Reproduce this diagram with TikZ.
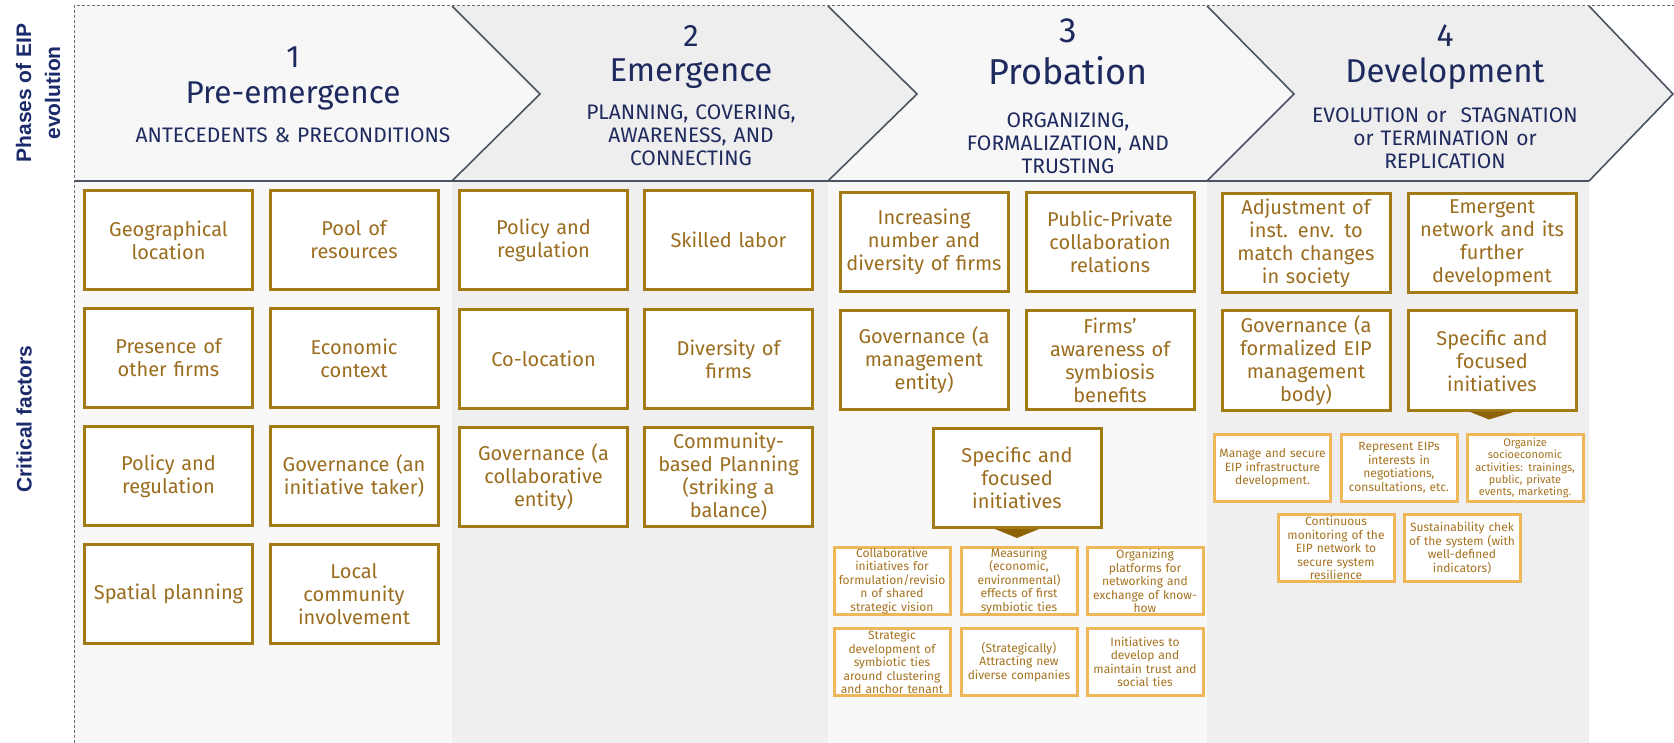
\documentclass[tikz,border=0pt]{standalone}
\usepackage{fontspec}
\setmainfont{Fira Sans}
\newfontfamily\labelfont{Liberation Sans}
\definecolor{navy}{HTML}{1E2A5E}
\definecolor{labelnavy}{HTML}{1B2A6B}
\definecolor{boxgold}{HTML}{A27A16}
\definecolor{goldtext}{HTML}{9B6D1F}
\definecolor{lightgold}{HTML}{EDB75A}
\definecolor{smalltext}{HTML}{A6721F}
\definecolor{arrowgold}{HTML}{8E6308}
\definecolor{outline}{HTML}{4A5361}
\definecolor{framegray}{HTML}{707070}
\definecolor{paleA}{HTML}{F8F8F8}
\definecolor{paleB}{HTML}{EFEFEF}
\definecolor{chevA}{HTML}{F7F7F8}
\definecolor{chevB}{HTML}{EEEEEE}
\begin{document}
\begin{tikzpicture}[x=1pt,y=-1pt,
  framedash/.style={draw=framegray, line width=1pt, dash pattern=on 3pt off 2pt},
  chevline/.style={draw=outline, line width=1.6pt},
  numtxt/.style={text=navy, inner sep=0pt, anchor=base},
  titletxt/.style={text=navy, inner sep=0pt, anchor=base},
  subtxt/.style={text=navy, inner sep=0pt, anchor=base, align=center, text width=340pt,
    font=\fontsize{21}{22.7}\selectfont},
  sidelabel/.style={text=labelnavy, inner sep=0pt, rotate=90, align=center,
    font=\labelfont\bfseries\fontsize{21}{29}\selectfont},
  bigbox/.style={draw=boxgold, line width=3pt, fill=white, minimum width=168pt,
    minimum height=99pt, inner sep=0pt, text width=166pt, align=center,
    text=goldtext, font=\fontsize{20}{23}\selectfont},
  smallbox/.style={draw=lightgold, line width=3pt, fill=white, minimum width=113pt,
    minimum height=67pt, inner sep=0pt, text width=116pt, align=center,
    text=smalltext, font=\fontsize{12}{13.5}\selectfont},
  pointer/.style={fill=arrowgold}
]
\useasboundingbox (0,0) rectangle (1674,743);
\fill[white] (0,0) rectangle (1674,743);

% column backgrounds
\fill[paleA] (74,181) rectangle (452,743);
\fill[paleB] (452,181) rectangle (828,743);
\fill[paleA] (828,181) rectangle (1207,743);
\fill[paleB] (1207,181) rectangle (1589,743);

% phase chevrons
\fill[chevA] (74,6) -- (452,6) -- (540,94) -- (452,181) -- (74,181) -- cycle;
\fill[chevB] (452,6) -- (828,6) -- (917,94) -- (828,181) -- (452,181) -- (540,94) -- cycle;
\fill[chevA] (828,6) -- (1207,6) -- (1294,94) -- (1207,181) -- (828,181) -- (917,94) -- cycle;
\fill[chevB] (1207,6) -- (1589,6) -- (1673,94) -- (1589,181) -- (1207,181) -- (1294,94) -- cycle;
\draw[chevline] (452,6) -- (540,94) -- (452,181);
\draw[chevline] (828,6) -- (917,94) -- (828,181);
\draw[chevline] (1207,6) -- (1294,94) -- (1207,181);
\draw[chevline] (1589,6) -- (1673,94) -- (1589,181);
\draw[chevline] (74,181) -- (1589,181);

% dashed frame
\draw[framedash] (74,743) -- (74,6) -- (1674,6);

% side labels
\node[sidelabel] (phases) at (38,93) {Phases of EIP\\evolution};
\node[sidelabel] (critical) at (24,419) {Critical factors};

% phase headings
\node[numtxt, font=\fontsize{31}{33}\selectfont] (n1) at (293,68) {1};
\node[titletxt, font=\fontsize{31.5}{33}\selectfont] (t1) at (293,104) {Pre-emergence};
\node[subtxt] (s1) at (293,143) {ANTECEDENTS \& PRECONDITIONS};

\node[numtxt, font=\fontsize{31}{33}\selectfont] (n2) at (691,47) {2};
\node[titletxt, font=\fontsize{33}{35}\selectfont] (t2) at (691,82) {Emergence};
\node[subtxt] (s2) at (691,120) {PLANNING, COVERING,\\AWARENESS, AND\\CONNECTING};

\node[numtxt, font=\fontsize{35}{37}\selectfont] (n3) at (1068,43) {3};
\node[titletxt, font=\fontsize{36}{38}\selectfont] (t3) at (1068,85) {Probation};
\node[subtxt] (s3) at (1068,128) {ORGANIZING,\\FORMALIZATION, AND\\TRUSTING};

\node[numtxt, font=\fontsize{32}{34}\selectfont] (n4) at (1445,47) {4};
\node[titletxt, font=\fontsize{33}{35}\selectfont] (t4) at (1445,83) {Development};
\node[subtxt] (s4) at (1445,123) {EVOLUTION or\ \ STAGNATION\\or TERMINATION or\\REPLICATION};

% phase 1 factors
\node[bigbox] (a1) at (168.5,240) {Geographical\\location};
\node[bigbox] (a2) at (354,240) {Pool of\\resources};
\node[bigbox] (a3) at (168.5,358) {Presence of\\other firms};
\node[bigbox] (a4) at (354,358) {Economic\\context};
\node[bigbox] (a5) at (168.5,476) {Policy and\\regulation};
\node[bigbox] (a6) at (354,476) {Governance (an\\initiative taker)};
\node[bigbox] (a7) at (168.5,594) {Spatial planning};
\node[bigbox] (a8) at (354,594) {Local\\community\\involvement};

% phase 2 factors
\node[bigbox] (b1) at (543.5,240) {Policy and\\regulation};
\node[bigbox] (b2) at (728.5,240) {Skilled labor};
\node[bigbox] (b3) at (543.5,359) {Co-location};
\node[bigbox] (b4) at (728.5,359) {Diversity of\\firms};
\node[bigbox] (b5) at (543.5,477) {Governance (a\\collaborative\\entity)};
\node[bigbox] (b6) at (728.5,477) {Community-\\based Planning\\(striking a\\balance)};

% phase 3 factors
\node[bigbox] (c1) at (924,242) {Increasing\\number and\\diversity of firms};
\node[bigbox] (c2) at (1110,242) {Public-Private\\collaboration\\relations};
\node[bigbox] (c3) at (924,360) {Governance (a\\management\\entity)};
\node[bigbox] (c4) at (1110,360) {Firms'\\awareness of\\symbiosis\\benefits};
\node[bigbox] (c5) at (1017,478) {Specific and\\focused\\initiatives};
\fill[pointer] ([xshift=-22pt]c5.south) -- ([xshift=22pt]c5.south) -- ([yshift=-9pt]c5.south) -- cycle;

\node[smallbox] (c6) at (892,581) {Collaborative\\initiatives for\\formulation/revisio\\n of shared\\strategic vision};
\node[smallbox] (c7) at (1019,581) {Measuring\\(economic,\\environmental)\\effects of first\\symbiotic ties};
\node[smallbox] (c8) at (1145,581) {Organizing\\platforms for\\networking and\\exchange of know-\\how};
\node[smallbox] (c9) at (892,662) {Strategic\\development of\\symbiotic ties\\around clustering\\and anchor tenant};
\node[smallbox] (c10) at (1019,662) {(Strategically)\\Attracting new\\diverse companies};
\node[smallbox] (c11) at (1145,662) {Initiatives to\\develop and\\maintain trust and\\social ties};

% phase 4 factors
\node[bigbox] (d1) at (1306,243) {Adjustment of\\inst. env. to\\match changes\\in society};
\node[bigbox] (d2) at (1492,243) {Emergent\\network and its\\further\\development};
\node[bigbox] (d3) at (1306,360.5) {Governance (a\\formalized EIP\\management\\body)};
\node[bigbox] (d4) at (1492,360.5) {Specific and\\focused\\initiatives};
\fill[pointer] ([xshift=-23pt]d4.south) -- ([xshift=23pt]d4.south) -- ([xshift=-3pt,yshift=-8pt]d4.south) -- cycle;

\node[smallbox] (d5) at (1272.5,468) {Manage and secure\\EIP infrastructure\\development.};
\node[smallbox] (d6) at (1399,468) {Represent EIPs\\interests in\\negotiations,\\consultations, etc.};
\node[smallbox, font=\fontsize{11}{12.3}\selectfont] (d7) at (1525,468) {Organize\\socioeconomic\\activities: trainings,\\public, private\\events, marketing.};
\node[smallbox] (d8) at (1336,548) {Continuous\\monitoring of the\\EIP network to\\secure system\\resilience};
\node[smallbox] (d9) at (1462,548) {Sustainability chek\\of the system (with\\well-defined\\indicators)};
\end{tikzpicture}
\end{document}
